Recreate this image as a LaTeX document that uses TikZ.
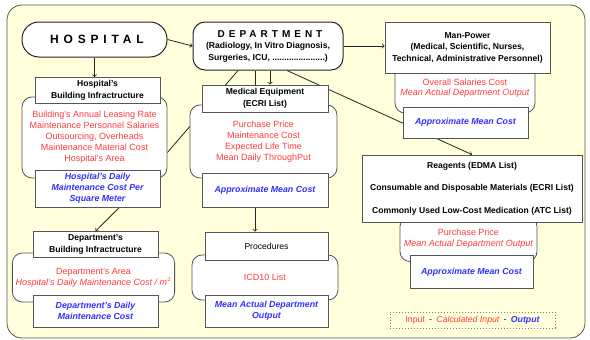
\documentclass[tikz,border=0pt]{standalone}
\usepackage{fontspec}
\setmainfont{Liberation Sans}
\usepackage{xcolor}
\usetikzlibrary{positioning}
\newfontfamily\spacedfont[LetterSpace=40]{Liberation Sans}
\definecolor{pale-yellow}{HTML}{FFFFDC}
\definecolor{input-red}{HTML}{FF3C3C}
\definecolor{output-blue}{HTML}{3030FF}
\definecolor{frame-gray}{HTML}{555555}
\pgfdeclarelayer{back}
\pgfdeclarelayer{wires}
\pgfsetlayers{back,wires,main}
\tikzset{
    main-box/.style = {draw=black!85, fill=white, line width=1pt, font=\fontsize{8.6}{11.5}\selectfont\bfseries, align=center},
    title-box/.style = {draw=frame-gray, fill=white, rectangle, line width=0.8pt, font=\fontsize{8.6}{11.5}\selectfont\bfseries, align=center},
    info-box/.style = {draw=frame-gray, fill=white, rectangle, rounded corners=10pt, line width=0.8pt, text=input-red, font=\fontsize{9}{11}\selectfont, align=center},
    output-box/.style = {draw=frame-gray, fill=white, rectangle, line width=0.8pt, text=output-blue, font=\fontsize{8.8}{11}\selectfont\bfseries\itshape, align=center},
    link/.style = {draw=black!85, line width=0.8pt},
}

\begin{document}
\begin{tikzpicture}[x=1pt, y=-1pt]
\useasboundingbox (0,0) rectangle (590,340);
\begin{pgfonlayer}{back}
\draw[draw=frame-gray, fill=pale-yellow, line width=0.8pt, rounded corners=15pt] (7,5) rectangle (585,338);
\end{pgfonlayer}

\node[main-box, rounded corners=17pt, minimum width=145pt, minimum height=35pt, font=\fontsize{12}{14}\selectfont\bfseries] (hospital) at (94.5,39.5) {\spacedfont HOSPITAL\kern-0.4em};
\node[main-box, rounded corners=12pt, minimum width=150pt, minimum height=48pt] (department) at (268,46) {{\fontsize{10}{12}\selectfont\spacedfont DEPARTMENT\kern-0.4em}\\(Radiology, In Vitro Diagnosis,\\Surgeries, ICU, ......................)};

\node[info-box, minimum width=140pt, minimum height=50pt] (manpower-info) at (465,88) {Overall Salaries Cost\\[-1pt]\textit{Mean Actual Department Output}};
\node[title-box, minimum width=165pt, minimum height=51pt] (manpower) at (467.5,47.5) {Man-Power\\(Medical, Scientific, Nurses,\\Technical, Administrative Personnel)};
\node[output-box, minimum width=125pt, minimum height=31pt] (manpower-out) at (465.5,122.5) {Approximate Mean Cost};

\node[info-box, minimum width=145pt, minimum height=81pt] (hosp-info) at (94.5,137.5) {Building's Annual Leasing Rate\\Maintenance Personnel Salaries\\Outsourcing, Overheads\\Maintenance Material Cost\\Hospital's Area};
\node[title-box, minimum width=125pt, minimum height=25pt] (hosp-build) at (97.5,90.5) {Hospital's\\Building Infractructure};
\node[output-box, minimum width=125pt, minimum height=33pt] (hosp-out) at (97.5,188.5) {Hospital's Daily\\Maintenance Cost Per\\Square Meter};

\node[info-box, minimum width=147pt, minimum height=73pt] (equip-info) at (263.5,141.5) {Purchase Price\\Maintenance Cost\\Expected Life Time\\Mean Daily ThroughPut};
\node[title-box, minimum width=126pt, minimum height=27pt] (med-equip) at (265,98.5) {Medical Equipment\\(ECRI List)};
\node[output-box, minimum width=126pt, minimum height=34pt] (equip-out) at (265,190) {Approximate Mean Cost};

\node[info-box, minimum width=137pt, minimum height=45pt] (reagents-info) at (468.5,239) {Purchase Price\\\textit{Mean Actual Department Output}};
\node[title-box, minimum width=220pt, minimum height=67pt, font=\fontsize{8.6}{22.5}\selectfont\bfseries] (reagents) at (472,188.5) {Reagents (EDMA List)\\Consumable and Disposable Materials (ECRI List)\\Commonly Used Low-Cost Medication (ATC List)};
\node[output-box, minimum width=123pt, minimum height=33pt] (reagents-out) at (471.5,272) {Approximate Mean Cost};

\node[info-box, minimum width=157pt, minimum height=49pt] (dept-info) at (93.5,277.5) {Department's Area\\\textit{Hospital's Daily Maintenance Cost / m$^2$}};
\node[title-box, minimum width=125pt, minimum height=25pt] (dept-build) at (95.5,244.5) {Department's\\Building Infractructure};
\node[output-box, minimum width=125pt, minimum height=32pt] (dept-out) at (95.5,311) {Department's Daily\\Maintenance Cost};

\node[info-box, minimum width=146pt, minimum height=45pt] (proc-info) at (265,277.5) {ICD10 List};
\node[title-box, minimum width=123pt, minimum height=28pt, font=\fontsize{8.6}{11}\selectfont] (procedures) at (266.5,246) {Procedures};
\node[output-box, minimum width=123pt, minimum height=32pt] (proc-out) at (266.5,311) {Mean Actual Department\\Output};

\node[draw=gray, dotted, line width=1pt, minimum width=165pt, minimum height=16pt, font=\fontsize{8.7}{10}\selectfont] (legend) at (472.5,320) {\textcolor{input-red}{Input}\enspace-\enspace\textcolor{input-red}{\itshape Calculated Input}\enspace-\enspace\textcolor{output-blue}{\bfseries\itshape Output}};

\begin{pgfonlayer}{wires}
\draw[link, ->] (hospital.east) -- (department.west);
\draw[link, ->] (hospital.south) -- (hospital.south |- hosp-build.north);
\draw[link, ->] (department.east) -- (department.east -| manpower.west);
\draw[link] ([xshift=-30pt]department.south) -- ([yshift=-15pt]hosp-info.east);
\draw[link, ->] ([xshift=-13pt]department.south) -- ([xshift=-13pt]department.south |- procedures.north);
\draw[link, ->] ([xshift=2pt]department.south) -- ([xshift=2pt]department.south |- med-equip.north);
\draw[link, ->] ([xshift=19pt]department.south) -- (reagents.north);
\draw[link, ->] ([xshift=22pt]hosp-out.south) -- (dept-build.north);
\end{pgfonlayer}
\end{tikzpicture}
\end{document}
